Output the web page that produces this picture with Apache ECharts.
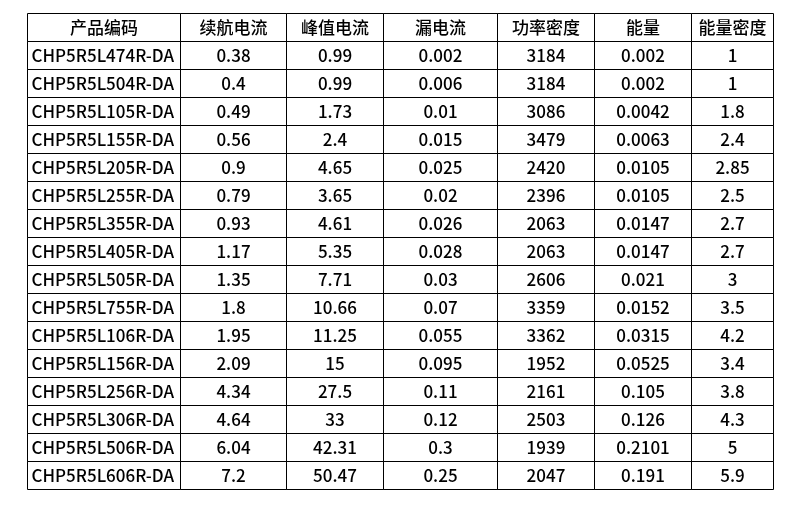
<!DOCTYPE html>
<html>
<head>
<meta charset="utf-8">
<script src="https://cdn.jsdelivr.net/npm/echarts@6/dist/echarts.min.js"></script>
<style>
html,body{margin:0;padding:0;background:#fff;}
#main{width:790px;height:507px;}
</style>
</head>
<body>
<div id="main"></div>
<script>
var headers = ['产品编码', '续航电流', '峰值电流', '漏电流', '功率密度', '能量', '能量密度'];
var codes = ['CHP5R5L474R-DA', 'CHP5R5L504R-DA', 'CHP5R5L105R-DA', 'CHP5R5L155R-DA', 'CHP5R5L205R-DA', 'CHP5R5L255R-DA', 'CHP5R5L355R-DA', 'CHP5R5L405R-DA', 'CHP5R5L505R-DA', 'CHP5R5L755R-DA', 'CHP5R5L106R-DA', 'CHP5R5L156R-DA', 'CHP5R5L256R-DA', 'CHP5R5L306R-DA', 'CHP5R5L506R-DA', 'CHP5R5L606R-DA'];
var cruiseCurrent = [0.38, 0.4, 0.49, 0.56, 0.9, 0.79, 0.93, 1.17, 1.35, 1.8, 1.95, 2.09, 4.34, 4.64, 6.04, 7.2];
var peakCurrent = [0.99, 0.99, 1.73, 2.4, 4.65, 3.65, 4.61, 5.35, 7.71, 10.66, 11.25, 15, 27.5, 33, 42.31, 50.47];
var leakCurrent = [0.002, 0.006, 0.01, 0.015, 0.025, 0.02, 0.026, 0.028, 0.03, 0.07, 0.055, 0.095, 0.11, 0.12, 0.3, 0.25];
var powerDensity = [3184, 3184, 3086, 3479, 2420, 2396, 2063, 2063, 2606, 3359, 3362, 1952, 2161, 2503, 1939, 2047];
var energy = [0.002, 0.002, 0.0042, 0.0063, 0.0105, 0.0105, 0.0147, 0.0147, 0.021, 0.0152, 0.0315, 0.0525, 0.105, 0.126, 0.2101, 0.191];
var energyDensity = [1, 1, 1.8, 2.4, 2.85, 2.5, 2.7, 2.7, 3, 3.5, 4.2, 3.4, 3.8, 4.3, 5, 5.9];

// layout (column edges in axis units)
var colEdges = [0, 153, 259, 356, 470, 567, 664, 746];

var columns = [codes, cruiseCurrent, peakCurrent, leakCurrent, powerDensity, energy, energyDensity];
var cells = [];
for (var c = 0; c < headers.length; c++) {
  cells.push([c, 0, headers[c], 1]);
}
for (var r = 0; r < codes.length; r++) {
  for (var c2 = 0; c2 < columns.length; c2++) {
    cells.push([c2, r + 1, String(columns[c2][r]), 0]);
  }
}
var nRows = codes.length + 1;

var chart = echarts.init(document.getElementById('main'));
chart.setOption({
  animation: false,
  grid: { left: 27, top: 13, width: 746, height: nRows * 28 },
  xAxis: { type: 'value', min: 0, max: colEdges[colEdges.length - 1], show: false },
  yAxis: { type: 'value', min: 0, max: nRows, inverse: true, show: false },
  series: [{
    type: 'custom',
    data: cells,
    encode: { x: 0, y: 1 },
    renderItem: function (params, api) {
      var c = api.value(0), r = api.value(1);
      var isHeader = api.value(3) === 1;
      var p0 = api.coord([colEdges[c], r]);
      var p1 = api.coord([colEdges[c + 1], r + 1]);
      var x0 = Math.round(p0[0]) + 0.5, y0 = Math.round(p0[1]) + 0.5;
      var x1 = Math.round(p1[0]) + 0.5, y1 = Math.round(p1[1]) + 0.5;
      var text = cells[params.dataIndex][2];
      var leftAlign = (c === 0 && !isHeader);
      return {
        type: 'group',
        children: [{
          type: 'rect',
          shape: { x: x0, y: y0, width: x1 - x0, height: y1 - y0 },
          style: { fill: 'none', stroke: '#000', lineWidth: 1 }
        }, {
          type: 'text',
          x: leftAlign ? x0 + 4 : (x0 + x1) / 2,
          y: (y0 + y1) / 2,
          style: {
            text: text,
            fill: '#000',
            font: '500 17px "Noto Sans CJK SC"',
            align: leftAlign ? 'left' : 'center',
            verticalAlign: 'middle'
          }
        }]
      };
    }
  }]
});
</script>
</body>
</html>
